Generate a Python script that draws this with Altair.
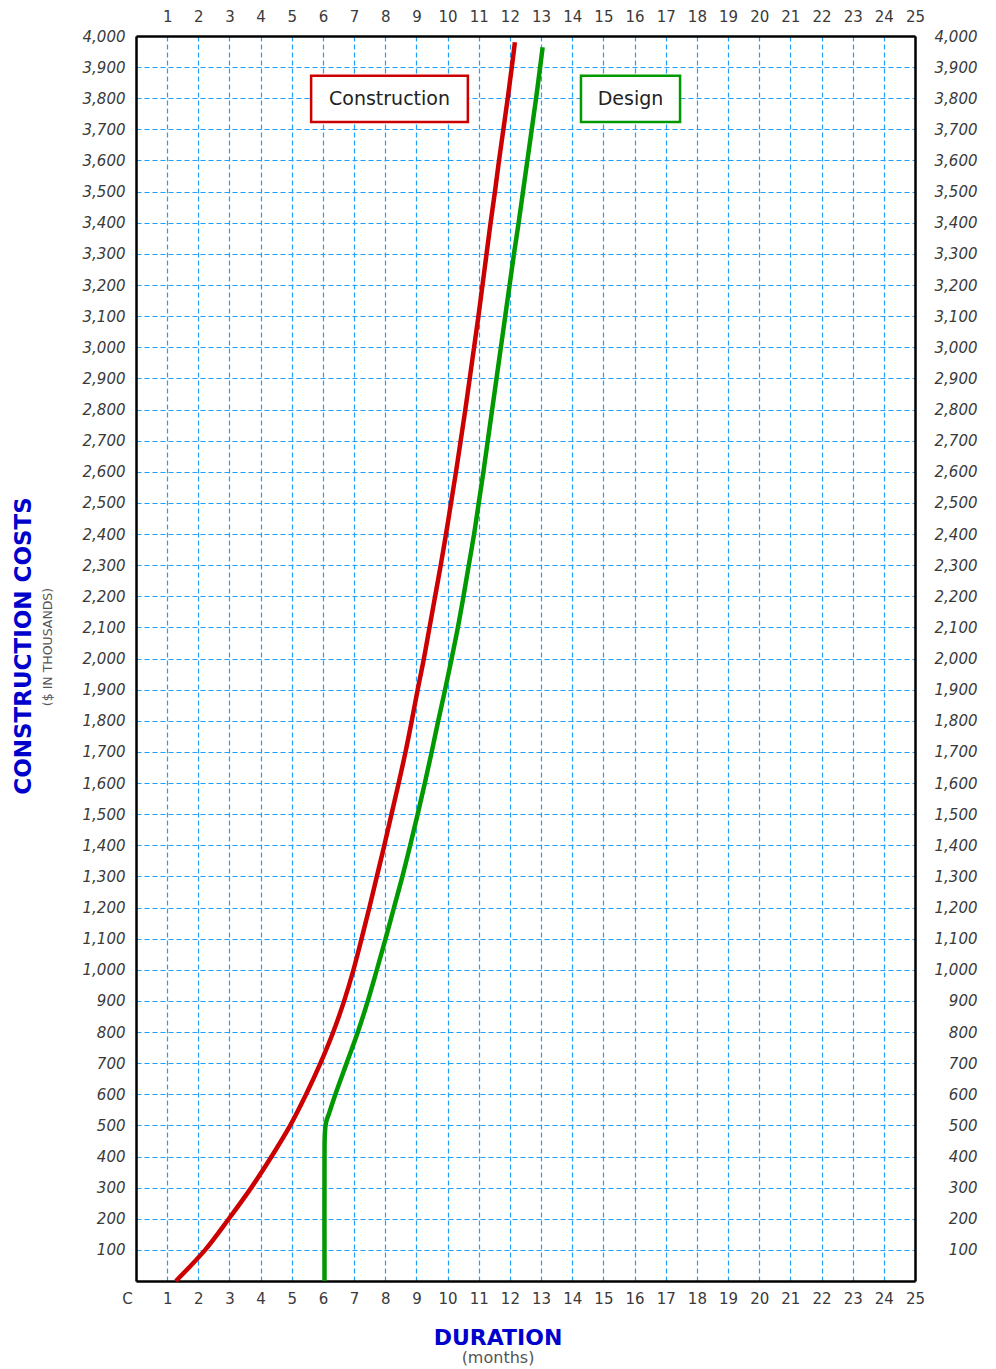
import altair as alt
import pandas as pd

# ---- data ----
construction_x = [1.28, 2.22, 2.98, 3.7, 4.35, 4.95, 5.46, 5.92, 6.33, 6.68, 6.98, 7.24, 7.49,
                  7.73, 7.97, 8.2, 8.43, 8.65, 8.85, 9.04, 9.24, 9.42, 9.6, 9.78, 9.95,
                  10.11, 10.27, 10.42, 10.57, 10.71, 10.85, 10.99, 11.12, 11.25, 11.38,
                  11.52, 11.65, 11.79, 11.93, 12.06, 12.16]
construction_y = [0, 100, 200, 300, 400, 500, 600, 700, 800, 900, 1000, 1100, 1200,
                  1300, 1400, 1500, 1600, 1700, 1800, 1900, 2000, 2100, 2200, 2300, 2400,
                  2500, 2600, 2700, 2800, 2900, 3000, 3100, 3200, 3300, 3400,
                  3500, 3600, 3700, 3800, 3900, 3980]

design_x = [6.05, 6.05, 6.06, 6.1, 6.2, 6.4, 6.76, 7.12, 7.44, 7.73, 8.01, 8.28, 8.55,
            8.8, 9.04, 9.27, 9.49, 9.7, 9.92, 10.13, 10.33, 10.51, 10.68, 10.85, 11.0,
            11.15, 11.29, 11.43, 11.57, 11.71, 11.85, 11.99, 12.13, 12.28, 12.42,
            12.56, 12.7, 12.84, 12.97, 13.05]
design_y = [0, 400, 470, 510, 540, 600, 700, 800, 900, 1000, 1100, 1200, 1300,
            1400, 1500, 1600, 1700, 1800, 1900, 2000, 2100, 2200, 2300, 2400, 2500,
            2600, 2700, 2800, 2900, 3000, 3100, 3200, 3300, 3400, 3500,
            3600, 3700, 3800, 3900, 3964]

series_names = ["Construction", "Design"]
series_colors = ["#cc0000", "#009900"]

month_ticks = list(range(0, 26))
top_ticks = list(range(1, 26))
cost_ticks = list(range(100, 4001, 100))

# label boxes (data-space extents)
box_labels = ["Construction", "Design"]
box_x0 = [5.62, 14.28]
box_x1 = [10.65, 17.46]
box_y0 = [3724, 3724]
box_y1 = [3872, 3872]

# ---- tables ----
rows = []
for name, xs, ys in [("Construction", construction_x, construction_y),
                     ("Design", design_x, design_y)]:
    for i, (xv, yv) in enumerate(zip(xs, ys)):
        rows.append({"series": name, "month": xv, "cost": yv, "i": i})
lines_df = pd.DataFrame(rows)

boxes_df = pd.DataFrame({"label": box_labels, "x0": box_x0, "x1": box_x1,
                         "y0": box_y0, "y1": box_y1})

W, H = 779, 1245
GRID = "#22a0ff"
LABEL_COLOR = "#3a3a3a"
FONT = "DejaVu Sans"

xscale = alt.Scale(domain=[0, 25], nice=False, zero=False)
yscale = alt.Scale(domain=[0, 4000], nice=False, zero=False)
color_scale = alt.Scale(domain=series_names, range=series_colors)

lines = alt.Chart(lines_df).mark_line(strokeWidth=4.5, interpolate="catmull-rom").encode(
    x=alt.X("month:Q", scale=xscale, axis=alt.Axis(
        orient="bottom", values=month_ticks, title=None, ticks=False,
        labelExpr="datum.value == 0 ? 'C' : datum.label",
        labelOffset={"condition": {"test": "datum.value == 0", "value": -9}, "value": 0},
        labelPadding=10, labelFontSize=15, labelColor=LABEL_COLOR, labelFont=FONT,
        grid=True, gridColor=GRID, gridDash=[5, 3], gridWidth=1.2,
        domain=True, domainColor="black", domainWidth=2.5, labelFlush=False)),
    y=alt.Y("cost:Q", scale=yscale, axis=alt.Axis(
        orient="left", values=cost_ticks, format=",d", title=None, ticks=False,
        labelPadding=11, labelFontSize=15, labelFontStyle="italic",
        labelColor=LABEL_COLOR, labelFont=FONT,
        grid=True, gridColor=GRID, gridDash=[5, 3], gridWidth=1.2,
        domain=True, domainColor="black", domainWidth=2.5, labelFlush=False)),
    color=alt.Color("series:N", scale=color_scale, legend=None),
    detail="series:N",
    order=alt.Order("i:Q"),
)

ghost = alt.Chart(lines_df).mark_line(opacity=0).encode(
    x=alt.X("month:Q", scale=xscale, axis=alt.Axis(
        orient="top", values=top_ticks, title=None, ticks=False,
        labelPadding=12, labelFontSize=15, labelColor=LABEL_COLOR, labelFont=FONT,
        grid=False, domain=True, domainColor="black", domainWidth=2.5, labelFlush=False)),
    y=alt.Y("cost:Q", scale=yscale, axis=alt.Axis(
        orient="right", values=cost_ticks, format=",d", title=None, ticks=False,
        labelAlign="right", labelPadding=62, labelFontSize=15, labelFontStyle="italic",
        labelColor=LABEL_COLOR, labelFont=FONT,
        grid=False, domain=True, domainColor="black", domainWidth=2.5, labelFlush=False)),
    detail="series:N",
    order=alt.Order("i:Q"),
)

boxes = alt.Chart(boxes_df).mark_rect(fill="white", strokeWidth=2.5).encode(
    x=alt.X("x0:Q", scale=xscale, axis=None),
    x2="x1:Q",
    y=alt.Y("y0:Q", scale=yscale, axis=None),
    y2="y1:Q",
    stroke=alt.Color("label:N", scale=color_scale, legend=None),
)

box_text = alt.Chart(boxes_df).transform_calculate(
    xm="(datum.x0 + datum.x1) / 2", ym="(datum.y0 + datum.y1) / 2"
).mark_text(fontSize=19, font=FONT, color="#222222", baseline="middle", align="center").encode(
    x=alt.X("xm:Q", scale=xscale, axis=None),
    y=alt.Y("ym:Q", scale=yscale, axis=None),
    text="label:N",
)

titles_df = pd.DataFrame({"t": [0]})
ytitle = alt.Chart(titles_df).mark_text(
    text="CONSTRUCTION COSTS", angle=270, fontSize=23, fontWeight="bold", font=FONT,
    color="#0000cc", baseline="middle", align="center"
).encode(x=alt.value(-112), y=alt.value(610))
ysub = alt.Chart(titles_df).mark_text(
    text="($ IN THOUSANDS)", angle=270, fontSize=12.5, font=FONT,
    color="#555555", baseline="middle", align="center"
).encode(x=alt.value(-88), y=alt.value(611))
xtitle = alt.Chart(titles_df).mark_text(
    text="DURATION", fontSize=22, fontWeight="bold", font=FONT,
    color="#0000cc", baseline="middle", align="center"
).encode(x=alt.value(362), y=alt.value(1302))
xsub = alt.Chart(titles_df).mark_text(
    text="(months)", fontSize=16, font=FONT,
    color="#555555", baseline="middle", align="center"
).encode(x=alt.value(362), y=alt.value(1322))

chart = alt.layer(
    lines, ghost, boxes, box_text, ytitle, ysub, xtitle, xsub
).resolve_axis(
    x="independent", y="independent"
).properties(
    width=W, height=H,
    autosize=alt.AutoSizeParams(type="none"),
    padding={"left": 128, "top": 28, "right": 73, "bottom": 90},
).configure_view(stroke=None).configure(background="white")

chart.save("out.html", embed_options={"renderer": "svg", "actions": False})
